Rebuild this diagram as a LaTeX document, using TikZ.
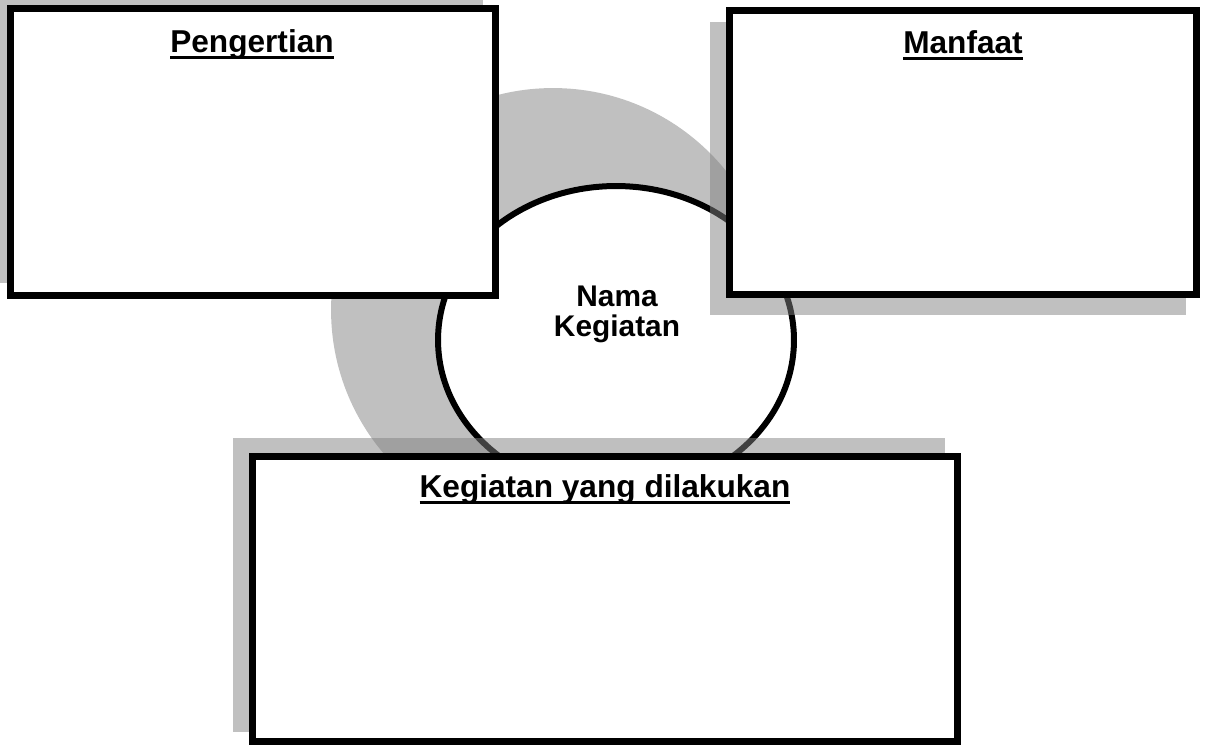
\documentclass[tikz,border=0pt]{standalone}
\usepackage{fontspec}
\setmainfont{Liberation Sans}
\usetikzlibrary{shapes.geometric}
\definecolor{abu}{gray}{0.753}
\definecolor{abugelap}{gray}{0.506}
\tikzset{
  kotak/.style={draw=black, line width=0.14cm, fill=white, rectangle, inner sep=0pt},
  bayangan/.style={fill=abugelap, fill opacity=0.5},
  judul/.style={font=\bfseries\fontsize{18}{18}\selectfont, inner sep=0pt, anchor=base}
}
\newcommand{\garis}[1]{\setbox0=\hbox{#1}\rlap{\rule[-4.2pt]{\wd0}{1.7pt}}\box0}

\begin{document}
\begin{tikzpicture}[x=0.02cm, y=-0.02cm]
  \useasboundingbox (0,0) rectangle (1221,745);
  %lingkaran abu-abu
  \fill[abu] (553,310) circle [radius=4.44cm];
  %lingkaran tengah
  \node[ellipse, draw=black, line width=0.12cm, fill=white, inner sep=0pt,
        minimum width=7.12cm, minimum height=6.16cm] (lingkaran) at (616,340) {};
  %bayangan kotak
  \fill[bayangan] (-9,-11) rectangle (483,283);
  \fill[bayangan] (710,22) rectangle (1186,315);
  \fill[bayangan] (233,438) rectangle (945,732);
  %kotak
  \node[kotak, minimum width=9.7cm, minimum height=5.74cm] (pengertian) at (253,152) {};
  \node[kotak, minimum width=9.34cm, minimum height=5.68cm] (manfaat) at (963,152.5) {};
  \node[kotak, minimum width=14.1cm, minimum height=5.7cm] (kegiatan) at (605,599) {};
  %tulisan
  \node[judul] (jPengertian) at (252,52) {\garis{Pengertian}};
  \node[judul] (jManfaat) at (963,53) {\garis{Manfaat}};
  \node[judul] (jKegiatan) at (605,497) {\garis{Kegiatan yang dilakukan}};
  \node[font=\bfseries\fontsize{17}{17}\selectfont, align=center, inner sep=0pt] (nama) at (617,314) {Nama\\Kegiatan};
\end{tikzpicture}
\end{document}
